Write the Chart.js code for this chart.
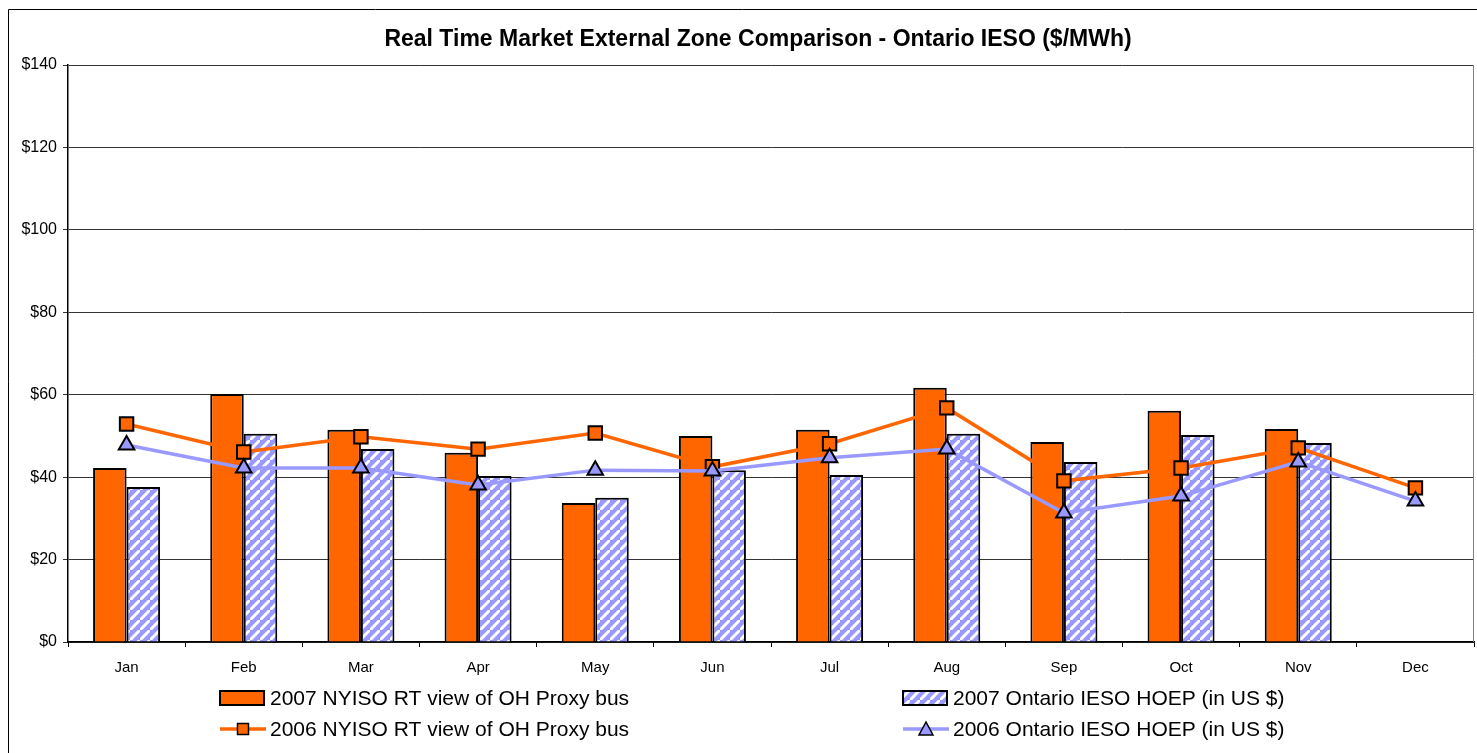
<!DOCTYPE html>
<html>
<head>
<meta charset="utf-8">
<script src="https://cdn.jsdelivr.net/npm/chart.js@4.4.0/dist/chart.umd.min.js"></script>
<style>
  body { margin: 0; background: #fff; }
  canvas { display: block; }
</style>
</head>
<body>
<canvas id="chart" width="1477" height="753"></canvas>
<script>
// Chart values
var months = ["Jan", "Feb", "Mar", "Apr", "May", "Jun", "Jul", "Aug", "Sep", "Oct", "Nov", "Dec"];
var nyiso2007 = [42.2, 60.2, 51.5, 45.9, 33.7, 50.0, 51.5, 61.7, 48.5, 56.1, 51.7, null];
var ieso2007 = [37.6, 50.5, 46.8, 40.3, 35.0, 41.7, 40.5, 50.5, 43.7, 50.2, 48.3, null];
var nyiso2006 = [52.9, 46.1, 49.8, 46.8, 50.7, 42.5, 48.1, 56.8, 39.1, 42.2, 47.1, 37.4];
var ieso2006 = [47.8, 42.2, 42.2, 38.1, 41.7, 41.5, 44.7, 46.8, 31.3, 35.4, 43.7, 34.2];
var yTicks = [0, 20, 40, 60, 80, 100, 120, 140];

var chartTitle = "Real Time Market External Zone Comparison - Ontario IESO ($/MWh)";
var orange = "#FF6600";
var lavender = "#9999FF";
var fontFamily = "'Liberation Sans', Arial, sans-serif";

// Diagonal white stripes over lavender, like the Excel pattern fill
function makeHatch() {
    var size = 10;
    var c = document.createElement("canvas");
    c.width = size;
    c.height = size;
    var ctx = c.getContext("2d");
    ctx.fillStyle = lavender;
    ctx.fillRect(0, 0, size, size);
    ctx.strokeStyle = "#ffffff";
    ctx.lineWidth = 3;
    ctx.beginPath();
    ctx.moveTo(-size, size * 2); ctx.lineTo(size * 2, -size);
    ctx.moveTo(-size * 2, size); ctx.lineTo(size, -size * 2);
    ctx.moveTo(0, size * 3); ctx.lineTo(size * 3, 0);
    ctx.stroke();
    return ctx.createPattern(c, "repeat");
}
var hatch = makeHatch();

// Background, outer frame, title, plot frame and the two-column legend
var framePlugin = {
    id: "frame",
    beforeDraw: function(chart) {
        var ctx = chart.ctx;
        ctx.save();
        ctx.fillStyle = "#fff";
        ctx.fillRect(0, 0, chart.width, chart.height);
        ctx.strokeStyle = "#000";
        ctx.lineWidth = 1;
        ctx.beginPath();
        ctx.moveTo(8.5, chart.height);
        ctx.lineTo(8.5, 9.5);
        ctx.lineTo(chart.width, 9.5);
        ctx.stroke();
        ctx.restore();
    },
    afterDatasetsDraw: function(chart) {
        var ctx = chart.ctx;
        var a = chart.chartArea;
        ctx.save();
        ctx.strokeStyle = "#808080";
        ctx.lineWidth = 1;
        ctx.beginPath();
        ctx.moveTo(Math.round(a.right) - 0.5, a.top);
        ctx.lineTo(Math.round(a.right) - 0.5, a.bottom);
        ctx.stroke();
        ctx.restore();
    },
    afterDraw: function(chart) {
        var ctx = chart.ctx;
        ctx.save();
        ctx.fillStyle = "#000";
        ctx.textBaseline = "middle";
        ctx.textAlign = "center";
        ctx.font = "bold 23px " + fontFamily;
        ctx.fillText(chartTitle, 758, 40);

        ctx.textAlign = "left";
        ctx.font = "21px " + fontFamily;
        var ds = chart.data.datasets;
        var spots = [
            { d: ds[0], x: 220, y: 698 },
            { d: ds[1], x: 903, y: 698 },
            { d: ds[2], x: 220, y: 729 },
            { d: ds[3], x: 903, y: 729 }
        ];
        spots.forEach(function(s) {
            var d = s.d;
            if (d.type === "bar") {
                ctx.fillStyle = d.backgroundColor;
                ctx.fillRect(s.x, s.y - 7, 44, 14);
                ctx.strokeStyle = "#000";
                ctx.lineWidth = 2;
                ctx.strokeRect(s.x, s.y - 7, 44, 14);
            } else {
                ctx.strokeStyle = d.borderColor;
                ctx.lineWidth = 3.5;
                ctx.beginPath();
                ctx.moveTo(s.x, s.y);
                ctx.lineTo(s.x + 46, s.y);
                ctx.stroke();
                ctx.fillStyle = d.pointBackgroundColor;
                ctx.strokeStyle = "#000";
                ctx.lineWidth = 1.5;
                var cx = s.x + 23;
                if (d.pointStyle === "rect") {
                    ctx.fillRect(cx - 5.5, s.y - 5.5, 11, 11);
                    ctx.strokeRect(cx - 5.5, s.y - 5.5, 11, 11);
                } else {
                    ctx.beginPath();
                    ctx.moveTo(cx, s.y - 7);
                    ctx.lineTo(cx + 7, s.y + 6);
                    ctx.lineTo(cx - 7, s.y + 6);
                    ctx.closePath();
                    ctx.fill();
                    ctx.stroke();
                }
            }
            ctx.fillStyle = "#000";
            ctx.fillText(d.label, s.x + 50, s.y + 1);
        });
        ctx.restore();
    }
};

new Chart(document.getElementById("chart"), {
    data: {
        labels: months,
        datasets: [
            {
                type: "bar",
                label: "2007 NYISO RT view of OH Proxy bus",
                data: nyiso2007,
                backgroundColor: orange,
                borderColor: "#000",
                borderWidth: 2,
                order: 2
            },
            {
                type: "bar",
                label: "2007 Ontario IESO HOEP (in US $)",
                data: ieso2007,
                backgroundColor: hatch,
                borderColor: "#000",
                borderWidth: 2,
                order: 2
            },
            {
                type: "line",
                label: "2006 NYISO RT view of OH Proxy bus",
                data: nyiso2006,
                borderColor: orange,
                borderWidth: 3.5,
                pointStyle: "rect",
                pointRadius: 9.5,
                pointBackgroundColor: orange,
                pointBorderColor: "#000",
                pointBorderWidth: 2,
                tension: 0,
                order: 1
            },
            {
                type: "line",
                label: "2006 Ontario IESO HOEP (in US $)",
                data: ieso2006,
                borderColor: lavender,
                borderWidth: 3.5,
                pointStyle: "triangle",
                pointRadius: 9,
                pointBackgroundColor: lavender,
                pointBorderColor: "#000",
                pointBorderWidth: 2,
                tension: 0,
                order: 0
            }
        ]
    },
    options: {
        responsive: false,
        animation: false,
        devicePixelRatio: 1,
        layout: {
            autoPadding: false,
            padding: { left: 8, top: 65, right: 3, bottom: 66 }
        },
        plugins: {
            legend: { display: false },
            title: { display: false },
            tooltip: { enabled: false }
        },
        datasets: {
            bar: {
                categoryPercentage: 0.572,
                barPercentage: 1.0
            }
        },
        scales: {
            x: {
                offset: true,
                grid: {
                    offset: true,
                    drawOnChartArea: false,
                    drawTicks: true,
                    tickLength: 5,
                    color: "#000"
                },
                border: { display: true, color: "#000", width: 1.5 },
                ticks: {
                    color: "#000",
                    padding: 12,
                    maxRotation: 0,
                    font: { family: fontFamily, size: 15 }
                },
                afterFit: function(scale) {
                    scale.height = 45;
                    scale.paddingLeft = 0;
                    scale.paddingRight = 0;
                }
            },
            y: {
                min: 0,
                max: 140,
                afterBuildTicks: function(scale) {
                    scale.ticks = yTicks.map(function(v) { return { value: v }; });
                },
                grid: {
                    color: "#333",
                    tickLength: 5,
                    drawTicks: true
                },
                border: { display: true, color: "#000", width: 1.5 },
                ticks: {
                    color: "#000",
                    padding: 6,
                    font: { family: fontFamily, size: 16 },
                    callback: function(v) { return "$" + v; }
                },
                afterFit: function(scale) {
                    scale.width = 60;
                    scale.paddingTop = 0;
                    scale.paddingBottom = 0;
                }
            }
        }
    },
    plugins: [framePlugin]
});
</script>
</body>
</html>
